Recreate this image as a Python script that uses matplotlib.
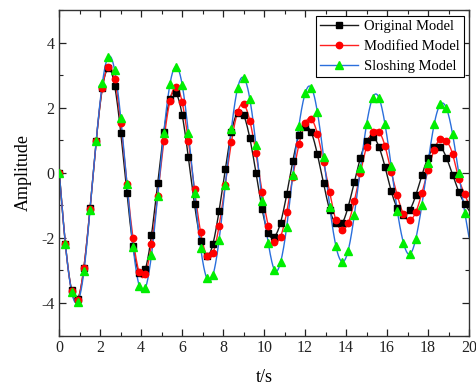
import numpy as np
import matplotlib
matplotlib.use("Agg")
import matplotlib.pyplot as plt

# Sample times (s); markers every 0.3 s, last point closes the curve at 20 s
t = [0.0, 0.3, 0.6, 0.9, 1.2, 1.5, 1.8, 2.1, 2.4, 2.7, 3.0, 3.3, 3.6, 3.9, 4.2, 4.5,
     4.8, 5.1, 5.4, 5.7, 6.0, 6.3, 6.6, 6.9, 7.2, 7.5, 7.8, 8.1, 8.4, 8.7, 9.0, 9.3,
     9.6, 9.9, 10.2, 10.5, 10.8, 11.1, 11.4, 11.7, 12.0, 12.3, 12.6, 12.9, 13.2, 13.5,
     13.8, 14.1, 14.4, 14.7, 15.0, 15.3, 15.6, 15.9, 16.2, 16.5, 16.8, 17.1, 17.4, 17.7,
     18.0, 18.3, 18.6, 18.9, 19.2, 19.5, 19.8, 20.0]

original = [0.0, -2.2, -3.6, -3.88, -2.91, -1.09, 0.98, 2.6, 3.22, 2.69, 1.24, -0.62,
            -2.25, -3.09, -2.96, -1.91, -0.32, 1.25, 2.28, 2.45, 1.78, 0.48, -0.96, -2.09,
            -2.55, -2.18, -1.16, 0.11, 1.25, 1.86, 1.78, 1.07, 0.01, -1.11, -1.86, -1.96,
            -1.53, -0.66, 0.37, 1.17, 1.43, 1.25, 0.57, -0.32, -1.14, -1.55, -1.55, -1.04,
            -0.29, 0.47, 0.98, 1.12, 0.81, 0.19, -0.55, -1.08, -1.29, -1.15, -0.69, -0.06,
            0.47, 0.81, 0.81, 0.47, -0.06, -0.57, -0.96, -1.15]

modified = [0.0, -2.2, -3.63, -3.9, -2.91, -1.1, 0.98, 2.63, 3.25, 2.88, 1.53, -0.34,
            -2.01, -3.06, -3.11, -2.19, -0.70, 0.98, 2.22, 2.66, 2.17, 0.98, -0.5, -1.83,
            -2.54, -2.47, -1.63, -0.37, 0.94, 1.87, 2.11, 1.61, 0.61, -0.59, -1.62, -2.11,
            -1.96, -1.21, -0.11, 0.88, 1.53, 1.66, 1.20, 0.33, -0.59, -1.45, -1.75, -1.54,
            -0.87, 0.01, 0.81, 1.27, 1.27, 0.83, 0.04, -0.69, -1.27, -1.45, -1.21, -0.62,
            0.09, 0.71, 1.05, 0.98, 0.58, -0.18, -0.66, -1.0]

sloshing = [0.0, -2.2, -3.65, -3.96, -3.03, -1.13, 0.98, 2.76, 3.58, 3.17, 1.70, -0.34,
            -2.27, -3.47, -3.55, -2.52, -0.71, 1.24, 2.73, 3.27, 2.71, 1.24, -0.62, -2.30,
            -3.24, -3.14, -2.06, -0.38, 1.35, 2.60, 2.93, 2.28, 0.86, -0.85, -2.15, -2.98,
            -2.75, -1.66, -0.05, 1.46, 2.45, 2.63, 1.87, 0.50, -1.04, -2.24, -2.73, -2.39,
            -1.30, 0.16, 1.50, 2.32, 2.32, 1.50, 0.22, -1.16, -2.15, -2.50, -2.03, -0.98,
            0.32, 1.50, 2.11, 1.99, 1.19, -0.01, -1.24, -1.97]

labels = ["Original Model", "Modified Model", "Sloshing Model"]
x_ticks = [0, 2, 4, 6, 8, 10, 12, 14, 16, 18, 20]
y_ticks = [-4, -2, 0, 2, 4]


def natural_spline(x, y, n_per=12):
    """Natural cubic spline through (x, y), evaluated densely."""
    x = np.asarray(x, float)
    y = np.asarray(y, float)
    n = len(x)
    h = np.diff(x)
    A = np.zeros((n, n))
    b = np.zeros(n)
    A[0, 0] = A[-1, -1] = 1.0
    for i in range(1, n - 1):
        A[i, i - 1] = h[i - 1]
        A[i, i] = 2 * (h[i - 1] + h[i])
        A[i, i + 1] = h[i]
        b[i] = 3 * ((y[i + 1] - y[i]) / h[i] - (y[i] - y[i - 1]) / h[i - 1])
    c = np.linalg.solve(A, b)
    xs, ys = [], []
    for i in range(n - 1):
        bi = (y[i + 1] - y[i]) / h[i] - h[i] * (2 * c[i] + c[i + 1]) / 3
        di = (c[i + 1] - c[i]) / (3 * h[i])
        u = np.linspace(0, h[i], n_per, endpoint=False)
        xs.append(x[i] + u)
        ys.append(y[i] + bi * u + c[i] * u ** 2 + di * u ** 3)
    xs.append([x[-1]])
    ys.append([y[-1]])
    return np.concatenate(xs), np.concatenate(ys)


plt.rcParams["font.family"] = ["Liberation Serif", "DejaVu Serif"]
plt.rcParams["axes.unicode_minus"] = False

fig = plt.figure(figsize=(4.76, 3.88), dpi=100)
ax = fig.add_axes([0.1246, 0.1353, 0.8607, 0.8377])

series = [
    (original, "#1a1a1a", "#000000", "s", 3.8),
    (modified, "#ff2020", "#ff0000", "o", 4.6),
    (sloshing, "#2a6fdc", "#00ee00", "^", 5.2),
]

marker_t = t[:-1]
for (vals, lc, mc, mk, ms), lab in zip(series, labels):
    xs, ys = natural_spline(t, vals)
    ax.plot(xs, ys, color=lc, lw=1.0, zorder=2)
    ax.plot(marker_t, vals[:-1], linestyle="none", marker=mk, ms=ms,
            mfc=mc, mec=mc, zorder=3)

# Legend proxies: line with marker
handles = []
for (vals, lc, mc, mk, ms), lab in zip(series, labels):
    h, = ax.plot([], [], color=lc, lw=1.0, marker=mk, ms=ms, mfc=mc, mec=mc, label=lab)
    handles.append(h)
leg = ax.legend(handles=handles, loc="upper right", fontsize=10.5, frameon=True,
                fancybox=False, edgecolor="black", framealpha=1.0,
                borderpad=0.3, labelspacing=0.45, handlelength=2.6,
                handletextpad=0.4, borderaxespad=0.35)
leg.get_frame().set_linewidth(0.8)

ax.set_xlim(0, 20)
ax.set_ylim(-5, 5)
ax.set_xticks(x_ticks)
ax.set_yticks(y_ticks)
ax.set_xticks(np.arange(1, 20, 2), minor=True)
ax.set_yticks(np.arange(-5, 6, 1), minor=True)
ax.tick_params(which="both", direction="in", top=True, right=True,
               labelsize=11.5, colors="#222222")
ax.tick_params(which="major", length=5, width=0.9)
ax.tick_params(which="minor", length=3, width=0.8)
for s in ax.spines.values():
    s.set_linewidth(1.0)
    s.set_color("#333333")

ax.set_xlabel("t/s", fontsize=13, labelpad=9)
ax.set_ylabel("Amplitude", fontsize=13, labelpad=7)

fig.savefig("out.png", dpi=100)
